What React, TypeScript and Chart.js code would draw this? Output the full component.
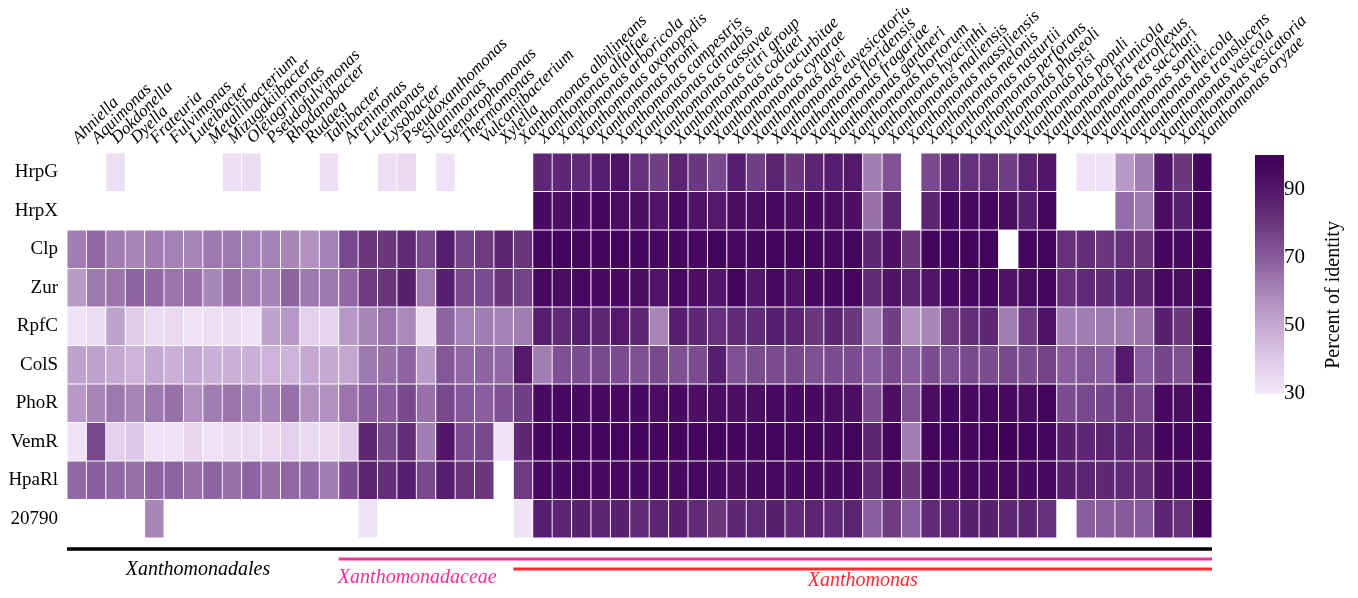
import React, { useEffect, useRef } from "react";
import { Chart, registerables } from "chart.js";

Chart.register(...registerables);

const N = null;

const SPECIES = [
  "Ahniella", "Aquimonas", "Dokdonella", "Dyella", "Frateuria", "Fulvimonas", "Luteibacter",
  "Metallibacterium", "Mizugakiibacter", "Oleiagrimonas", "Pseudofulvimonas", "Rhodanobacter",
  "Rudaea", "Tahibacter", "Arenimonas", "Luteimonas", "Lysobacter", "Pseudoxanthomonas",
  "Silanimonas", "Stenotrophomonas", "Thermomonas", "Vulcaniibacterium", "Xylella",
  "Xanthomonas albilineans", "Xanthomonas alfalfae", "Xanthomonas arboricola", "Xanthomonas axonopodis",
  "Xanthomonas bromi", "Xanthomonas campestris", "Xanthomonas cannabis", "Xanthomonas cassavae",
  "Xanthomonas citri group", "Xanthomonas codiaei", "Xanthomonas cucurbitae", "Xanthomonas cynarae",
  "Xanthomonas dyei", "Xanthomonas euvesicatoria", "Xanthomonas floridensis", "Xanthomonas fragariae",
  "Xanthomonas gardneri", "Xanthomonas hortorum", "Xanthomonas hyacinthi", "Xanthomonas maliensis",
  "Xanthomonas massiliensis", "Xanthomonas melonis", "Xanthomonas nasturtii", "Xanthomonas perforans",
  "Xanthomonas phaseoli", "Xanthomonas pisi", "Xanthomonas populi", "Xanthomonas prunicola",
  "Xanthomonas retroflexus", "Xanthomonas sacchari", "Xanthomonas sontii", "Xanthomonas theicola",
  "Xanthomonas translucens", "Xanthomonas vasicola", "Xanthomonas vesicatoria", "Xanthomonas oryzae",
];

const GENES = ["HrpG", "HrpX", "Clp", "Zur", "RpfC", "ColS", "PhoR", "VemR", "HpaRl", "20790"];

const HRPG = [
  N, N, 33, N, N, N, N, N, 33, 34, N, N,
  N, 33, N, N, 33, 35, N, 32, N, N, N, N,
  85, 85, 84, 88, 92, 82, 78, 86, 80, 75, 88, 78,
  86, 80, 86, 88, 89, 62, 72, N, 75, 84, 82, 82,
  78, 86, 90, N, 32, 31, 55, 62, 91, 80, 97,
];
const HRPX = [
  N, N, N, N, N, N, N, N, N, N, N, N,
  N, N, N, N, N, N, N, N, N, N, N, N,
  95, 93, 95, 97, 94, 93, 91, 96, 92, 89, 94, 94,
  96, 94, 95, 94, 93, 65, 86, N, 86, 97, 96, 97,
  94, 88, 97, N, N, N, 66, 63, 94, 88, 98,
];
const CLP = [
  62, 67, 62, 60, 62, 61, 60, 63, 63, 61, 61, 60,
  57, 61, 75, 80, 80, 84, 75, 88, 77, 79, 86, 81,
  97, 98, 97, 98, 98, 97, 96, 97, 96, 98, 96, 97,
  98, 98, 97, 96, 97, 85, 93, 80, 98, 98, 98, 98,
  N, 97, 98, 82, 83, 80, 82, 80, 97, 96, 98,
];
const ZUR = [
  54, 63, 64, 68, 67, 64, 65, 60, 65, 62, 61, 68,
  63, 63, 67, 79, 81, 87, 63, 88, 75, 74, 80, 77,
  96, 94, 96, 95, 95, 94, 91, 96, 93, 90, 98, 90,
  96, 92, 95, 97, 97, 84, 92, 86, 91, 95, 96, 97,
  92, 94, 97, 82, 84, 84, 86, 85, 96, 94, 98,
];
const RPFC = [
  32, 34, 52, 40, 34, 35, 32, 33, 34, 32, 52, 55,
  38, 37, 55, 60, 64, 59, 34, 68, 61, 62, 61, 62,
  88, 84, 88, 85, 89, 85, 60, 88, 85, 82, 84, 84,
  88, 86, 80, 86, 80, 62, 78, 57, 60, 79, 83, 85,
  62, 79, 92, 62, 62, 63, 63, 65, 87, 80, 98,
];
const COLS = [
  52, 52, 50, 47, 50, 48, 50, 48, 48, 48, 47, 47,
  50, 50, 51, 63, 65, 68, 54, 71, 67, 68, 67, 89,
  62, 73, 74, 75, 74, 73, 75, 73, 74, 88, 73, 74,
  74, 75, 73, 74, 74, 69, 75, 69, 74, 73, 75, 74,
  75, 74, 77, 69, 71, 69, 89, 69, 76, 73, 98,
];
const PHOR = [
  55, 60, 63, 60, 63, 65, 57, 62, 64, 61, 61, 65,
  57, 57, 64, 69, 69, 75, 65, 75, 71, 69, 73, 78,
  95, 96, 95, 96, 96, 95, 94, 95, 93, 94, 93, 94,
  96, 95, 95, 94, 93, 74, 93, 73, 94, 97, 96, 96,
  95, 94, 98, 74, 75, 76, 79, 75, 96, 94, 98,
];
const VEMR = [
  32, 75, 38, 41, 32, 32, 36, 32, 34, 34, 35, 38,
  35, 35, 39, 85, 75, 83, 62, 90, 74, 75, 32, 85,
  97, 98, 97, 98, 97, 98, 97, 98, 97, 98, 98, 97,
  98, 97, 98, 97, 98, 86, 98, 62, 98, 98, 97, 98,
  99, 98, 97, 87, 85, 86, 86, 84, 98, 97, 98,
];
const HPARL = [
  67, 69, 67, 65, 68, 68, 65, 68, 65, 68, 65, 67,
  67, 62, 74, 86, 83, 88, 75, 88, 81, 80, N, 79,
  96, 95, 96, 95, 96, 95, 96, 95, 96, 95, 94, 95,
  96, 95, 96, 95, 96, 84, 96, 80, 96, 95, 96, 95,
  96, 95, 96, 87, 86, 85, 84, 83, 94, 95, 98,
];
const G20790 = [
  N, N, N, N, 60, N, N, N, N, N, N, N,
  N, N, N, 32, N, N, N, N, N, N, N, 31,
  88, 86, 87, 86, 87, 84, 86, 87, 84, 80, 85, 84,
  87, 84, 86, 84, 86, 69, 79, 69, 84, 86, 87, 87,
  85, 86, 82, N, 69, 69, 70, 70, 86, 82, 98,
];

const ROW_VALUES = [HRPG, HRPX, CLP, ZUR, RPFC, COLS, PHOR, VEMR, HPARL, G20790];

const GROUP_NAMES = ["Xanthomonadales", "Xanthomonadaceae", "Xanthomonas"];
const GROUP_START = [0, 14, 23];
const GROUP_END = [58, 58, 58];
const GROUP_LABEL_AT = [6.25, 17.55, 40.5];

const COLORBAR_TICKS = [30, 50, 70, 90];
const COLOR_MIN = 30;
const COLOR_MAX = 100;

// style constants
const COLOR_STOPS: [number, string][] = [
  [30, "#f3e6f9"],
  [40, "#e0cbe9"],
  [50, "#c5a9d3"],
  [60, "#a886b8"],
  [70, "#875a9b"],
  [80, "#6b387f"],
  [90, "#52166a"],
  [100, "#3f0057"],
];
const GROUP_COLORS = ["#000000", "#ff2e96", "#ff2a35"];
const LINE_OFFSET = [11, 21, 31];
const LINE_WIDTH = [3.5, 3, 3];
const TEXT_OFFSET = [32, 40, 43];
const SERIF = '"Liberation Serif", "Times New Roman", serif';

function hexToRgb(h: string) {
  const n = parseInt(h.slice(1), 16);
  return [(n >> 16) & 255, (n >> 8) & 255, n & 255];
}

function valueToColor(v: number) {
  const x = Math.max(COLOR_MIN, Math.min(COLOR_MAX, v));
  for (let i = 0; i < COLOR_STOPS.length - 1; i++) {
    const [v0, c0] = COLOR_STOPS[i];
    const [v1, c1] = COLOR_STOPS[i + 1];
    if (x >= v0 && x <= v1) {
      const t = (x - v0) / (v1 - v0);
      const a = hexToRgb(c0);
      const b = hexToRgb(c1);
      const r = a.map((q, k) => Math.round(q + (b[k] - q) * t));
      return `rgb(${r[0]},${r[1]},${r[2]})`;
    }
  }
  return COLOR_STOPS[COLOR_STOPS.length - 1][1];
}

const overlayPlugin = {
  id: "overlay",
  afterDraw(chart: any) {
    const ctx = chart.ctx as CanvasRenderingContext2D;
    const xs = chart.scales.x;
    const cb = chart.scales.cb;
    const area = chart.chartArea;
    const band = xs.getPixelForValue(1) - xs.getPixelForValue(0);
    ctx.save();

    // taxonomic group bars and names
    GROUP_NAMES.forEach((name, i) => {
      const x0 = xs.getPixelForValue(GROUP_START[i]) - band / 2;
      const x1 = xs.getPixelForValue(GROUP_END[i]) + band / 2;
      const y = area.bottom + LINE_OFFSET[i];
      ctx.fillStyle = GROUP_COLORS[i];
      ctx.fillRect(x0, y - LINE_WIDTH[i] / 2, x1 - x0, LINE_WIDTH[i]);
      ctx.font = `italic 20px ${SERIF}`;
      ctx.textAlign = "center";
      ctx.textBaseline = "middle";
      ctx.fillText(name, xs.getPixelForValue(GROUP_LABEL_AT[i]), area.bottom + TEXT_OFFSET[i]);
    });

    // colour bar
    const top = cb.getPixelForValue(COLOR_MAX);
    const bot = cb.getPixelForValue(COLOR_MIN);
    const cbX = area.right + 43;
    const cbW = 29;
    const grad = ctx.createLinearGradient(0, bot, 0, top);
    COLOR_STOPS.forEach(([v, c]) => grad.addColorStop((v - COLOR_MIN) / (COLOR_MAX - COLOR_MIN), c));
    ctx.fillStyle = grad;
    ctx.fillRect(cbX, top, cbW, bot - top);

    ctx.fillStyle = "#000";
    ctx.font = `21px ${SERIF}`;
    ctx.textAlign = "left";
    ctx.textBaseline = "middle";
    COLORBAR_TICKS.forEach((t) => {
      ctx.fillText(String(t), cbX + cbW, cb.getPixelForValue(t));
    });

    ctx.translate(area.right + 122, cb.getPixelForValue(59));
    ctx.rotate(-Math.PI / 2);
    ctx.font = `20px ${SERIF}`;
    ctx.textAlign = "center";
    ctx.textBaseline = "middle";
    ctx.fillText("Percent of identity", 0, 0);
    ctx.restore();
  },
};

export default function App() {
  const ref = useRef<HTMLCanvasElement | null>(null);

  useEffect(() => {
    if (!ref.current) return;
    const datasets = ROW_VALUES.map((vals, r) => ({
      label: GENES[r],
      data: vals.map((v) => (v == null ? null : [r, r + 1])),
      backgroundColor: vals.map((v) => (v == null ? "rgba(0,0,0,0)" : valueToColor(v))),
      borderColor: "#ffffff",
      borderWidth: 0.8,
      borderSkipped: false,
      grouped: false,
      barPercentage: 1,
      categoryPercentage: 1,
      yAxisID: "y",
    }));

    const chart = new Chart(ref.current, {
      type: "bar",
      data: { labels: SPECIES, datasets: datasets as any },
      options: {
        responsive: false,
        animation: false,
        events: [],
        layout: { padding: { left: 0, top: 0, right: 138, bottom: 60 } },
        plugins: { legend: { display: false }, tooltip: { enabled: false } },
        scales: {
          x: {
            type: "category",
            position: "top",
            offset: true,
            grid: { display: false, drawTicks: false },
            border: { display: false },
            ticks: {
              autoSkip: false,
              minRotation: 45,
              maxRotation: 45,
              padding: 5,
              labelOffset: 13,
              color: "#000",
              font: { family: SERIF, size: 17, style: "italic" },
            },
            afterFit: (s: any) => {
              s.height = 145;
            },
          },
          y: {
            type: "linear",
            min: 0,
            max: GENES.length,
            reverse: true,
            grid: { display: false, drawTicks: false },
            border: { display: false },
            afterBuildTicks: (s: any) => {
              s.ticks = GENES.map((_, i) => ({ value: i + 0.5 }));
            },
            ticks: {
              autoSkip: false,
              padding: 9,
              color: "#000",
              font: { family: SERIF, size: 19 },
              callback: (_v: any, i: number) => GENES[i],
            },
            afterFit: (s: any) => {
              s.width = 59;
            },
          },
          cb: {
            type: "linear",
            axis: "y",
            position: "right",
            display: false,
            min: -12.2,
            max: 100.6,
          },
        },
      } as any,
      plugins: [overlayPlugin],
    });
    return () => chart.destroy();
  }, []);

  return (
    <div style={{ width: 1342, height: 590, marginBottom: -8 }}>
      <canvas ref={ref} width={1342} height={590} style={{ display: "block" }} />
    </div>
  );
}
